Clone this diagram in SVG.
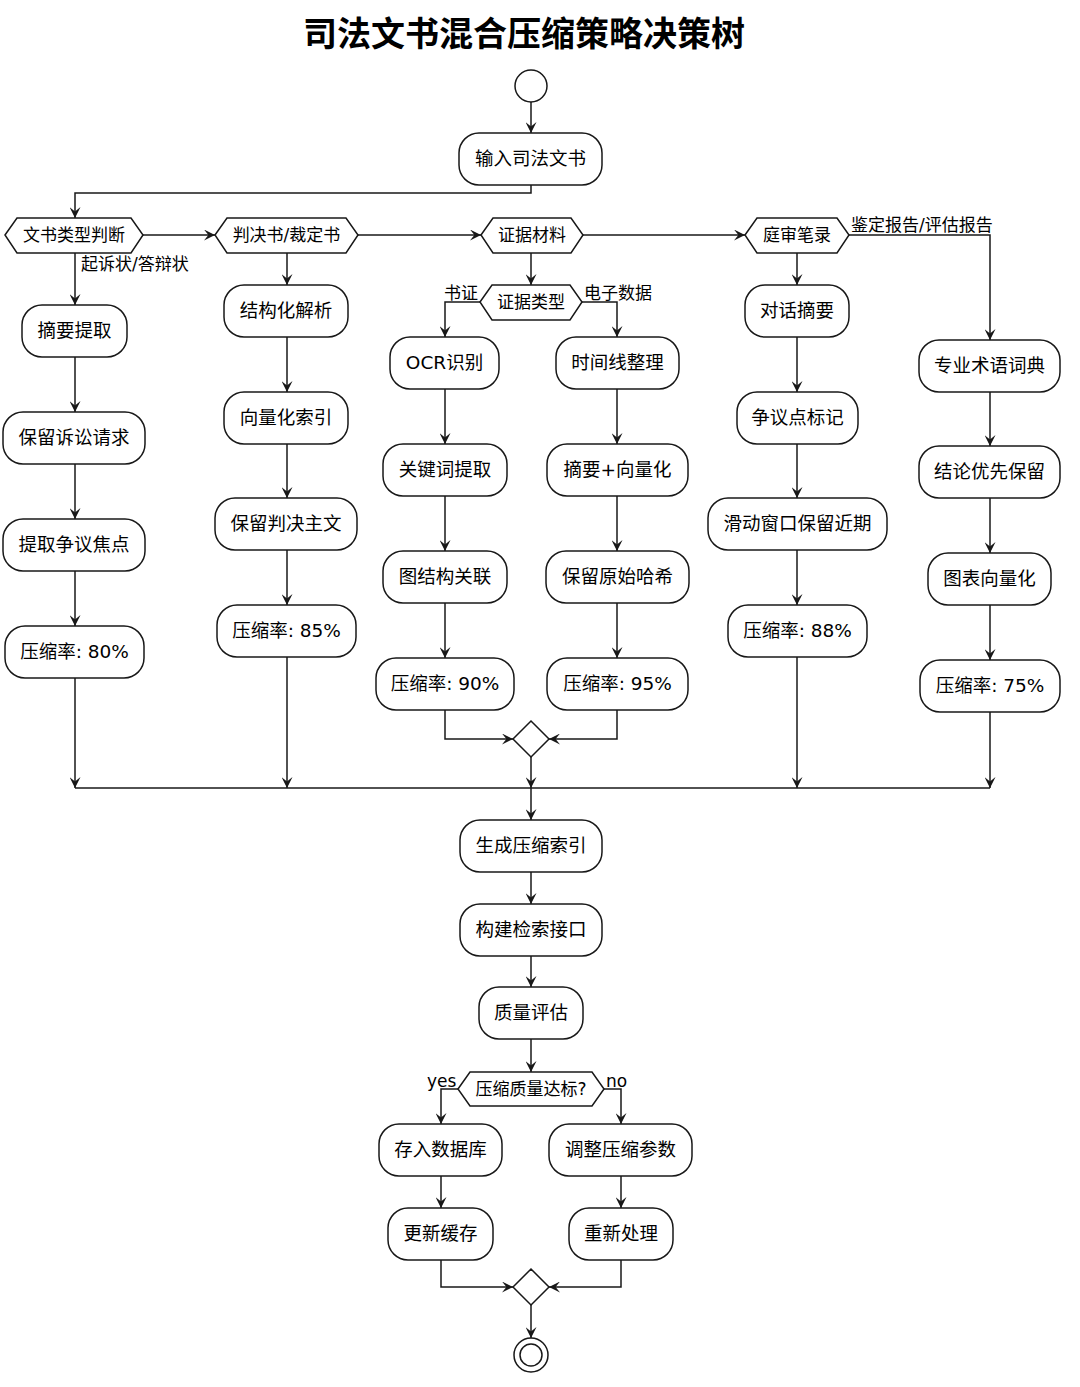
<svg xmlns="http://www.w3.org/2000/svg" width="1080" height="1387" viewBox="0 0 1080 1387">
<style>
.n{fill:#fff;stroke:#181818;stroke-width:1.5}
.t{font-family:"DejaVu Sans","Noto Sans CJK SC",sans-serif;font-size:18.5px;fill:#000;text-anchor:middle}
.h{font-family:"DejaVu Sans","Noto Sans CJK SC",sans-serif;font-size:17px;fill:#000;text-anchor:middle}
.l{font-family:"DejaVu Sans","Noto Sans CJK SC",sans-serif;font-size:17px;fill:#000}
.c{fill:none;stroke:#181818;stroke-width:1.5}
.a{marker-end:url(#arr)}
</style>
<defs>
<marker id="arr" viewBox="0 0 10 10" refX="10" refY="5" markerWidth="11" markerHeight="11" markerUnits="userSpaceOnUse" orient="auto">
<path d="M0,0 L10,5 L0,10 L4,5 z" fill="#181818"/>
</marker>
</defs>
<rect width="1080" height="1387" fill="#fff"/>
<text x="524" y="46" font-family="'DejaVu Sans','Noto Sans CJK SC',sans-serif" font-size="34" font-weight="bold" text-anchor="middle">司法文书混合压缩策略决策树</text>

<g id="connectors">
<path class="c a" d="M531,102 V133"/>
<path class="c a" d="M531,185 V193 H75 V218"/>
<path class="c a" d="M143,235 H215"/>
<path class="c a" d="M358,235 H481"/>
<path class="c a" d="M583,235 H745"/>
<path class="c a" d="M849,235 H990 V340"/>
<path class="c a" d="M75,253 V305"/>
<path class="c a" d="M75,357 V412"/>
<path class="c a" d="M75,464 V519"/>
<path class="c a" d="M75,571 V626"/>
<path class="c a" d="M75,678 V788"/>
<path class="c a" d="M287,253 V285"/>
<path class="c a" d="M287,337 V392"/>
<path class="c a" d="M287,444 V498"/>
<path class="c a" d="M287,550 V605"/>
<path class="c a" d="M287,657 V788"/>
<path class="c a" d="M531,253 V285"/>
<path class="c a" d="M480,302 H445 V337"/>
<path class="c a" d="M582,302 H617 V337"/>
<path class="c a" d="M445,389 V444"/>
<path class="c a" d="M445,496 V551"/>
<path class="c a" d="M445,603 V658"/>
<path class="c a" d="M445,710 V739 H513"/>
<path class="c a" d="M617,389 V444"/>
<path class="c a" d="M617,496 V551"/>
<path class="c a" d="M617,603 V658"/>
<path class="c a" d="M617,710 V739 H549"/>
<path class="c a" d="M531,757 V788"/>
<path class="c a" d="M797,253 V285"/>
<path class="c a" d="M797,337 V392"/>
<path class="c a" d="M797,444 V498"/>
<path class="c a" d="M797,550 V605"/>
<path class="c a" d="M797,657 V788"/>
<path class="c a" d="M990,392 V446"/>
<path class="c a" d="M990,498 V553"/>
<path class="c a" d="M990,605 V660"/>
<path class="c a" d="M990,712 V788"/>
<path class="c" d="M75,788 H990"/>
<path class="c a" d="M531,788 V820"/>
<path class="c a" d="M531,872 V904"/>
<path class="c a" d="M531,956 V987"/>
<path class="c a" d="M531,1039 V1072"/>
<path class="c a" d="M458,1089 H441 V1124"/>
<path class="c a" d="M604,1089 H621 V1124"/>
<path class="c a" d="M441,1176 V1208"/>
<path class="c a" d="M621,1176 V1208"/>
<path class="c a" d="M441,1260 V1287 H513"/>
<path class="c a" d="M621,1260 V1287 H549"/>
<path class="c a" d="M531,1305 V1338"/>
<text class="l" x="81" y="270">起诉状/答辩状</text>
<text class="l" x="851" y="231">鉴定报告/评估报告</text>
<text class="l" x="444" y="299">书证</text>
<text class="l" x="584" y="299">电子数据</text>
<text class="l" x="427" y="1087">yes</text>
<text class="l" x="606" y="1087">no</text>
</g>

<g id="start"><circle class="n" cx="531" cy="86" r="16"/></g>
<g id="n_input"><rect class="n" x="459" y="133" width="143" height="52" rx="20"/><text class="t" x="530.5" y="165">输入司法文书</text></g>

<g id="d_type"><path class="n" d="M5,235 L17,218 H131 L143,235 L131,253 H17 Z"/><text class="h" x="74" y="241">文书类型判断</text></g>
<g id="d_judg"><path class="n" d="M215,235 L227,218 H346 L358,235 L346,253 H227 Z"/><text class="h" x="286.5" y="241">判决书/裁定书</text></g>
<g id="d_evid"><path class="n" d="M481,235 L493,218 H571 L583,235 L571,253 H493 Z"/><text class="h" x="532" y="241">证据材料</text></g>
<g id="d_trial"><path class="n" d="M745,235 L757,218 H837 L849,235 L837,253 H757 Z"/><text class="h" x="797" y="241">庭审笔录</text></g>

<g id="n_c1a"><rect class="n" x="22" y="305" width="105" height="52" rx="20"/><text class="t" x="74.5" y="337">摘要提取</text></g>
<g id="n_c1b"><rect class="n" x="3" y="412" width="142" height="52" rx="20"/><text class="t" x="74" y="444">保留诉讼请求</text></g>
<g id="n_c1c"><rect class="n" x="3" y="519" width="142" height="52" rx="20"/><text class="t" x="74" y="551">提取争议焦点</text></g>
<g id="n_c1d"><rect class="n" x="5" y="626" width="139" height="52" rx="20"/><text class="t" x="74.5" y="658">压缩率: 80%</text></g>

<g id="n_c2a"><rect class="n" x="224" y="285" width="124" height="52" rx="20"/><text class="t" x="286" y="317">结构化解析</text></g>
<g id="n_c2b"><rect class="n" x="224" y="392" width="124" height="52" rx="20"/><text class="t" x="286" y="424">向量化索引</text></g>
<g id="n_c2c"><rect class="n" x="215" y="498" width="142" height="52" rx="20"/><text class="t" x="286" y="530">保留判决主文</text></g>
<g id="n_c2d"><rect class="n" x="217" y="605" width="139" height="52" rx="20"/><text class="t" x="286.5" y="637">压缩率: 85%</text></g>

<g id="d_evtype"><path class="n" d="M480,302 L492,285 H570 L582,302 L570,320 H492 Z"/><text class="h" x="531" y="308">证据类型</text></g>

<g id="n_c3a"><rect class="n" x="390" y="337" width="109" height="52" rx="20"/><text class="t" x="444.5" y="369">OCR识别</text></g>
<g id="n_c3b"><rect class="n" x="383" y="444" width="124" height="52" rx="20"/><text class="t" x="445" y="476">关键词提取</text></g>
<g id="n_c3c"><rect class="n" x="383" y="551" width="124" height="52" rx="20"/><text class="t" x="445" y="583">图结构关联</text></g>
<g id="n_c3d"><rect class="n" x="376" y="658" width="138" height="52" rx="20"/><text class="t" x="445" y="690">压缩率: 90%</text></g>

<g id="n_c4a"><rect class="n" x="556" y="337" width="123" height="52" rx="20"/><text class="t" x="617.5" y="369">时间线整理</text></g>
<g id="n_c4b"><rect class="n" x="547" y="444" width="141" height="52" rx="20"/><text class="t" x="617.5" y="476">摘要+向量化</text></g>
<g id="n_c4c"><rect class="n" x="546" y="551" width="143" height="52" rx="20"/><text class="t" x="617.5" y="583">保留原始哈希</text></g>
<g id="n_c4d"><rect class="n" x="547" y="658" width="141" height="52" rx="20"/><text class="t" x="617.5" y="690">压缩率: 95%</text></g>

<g id="merge1"><path class="n" d="M531,721 L549,739 L531,757 L513,739 Z"/></g>

<g id="n_c5a"><rect class="n" x="745" y="285" width="104" height="52" rx="20"/><text class="t" x="797" y="317">对话摘要</text></g>
<g id="n_c5b"><rect class="n" x="737" y="392" width="121" height="52" rx="20"/><text class="t" x="797.5" y="424">争议点标记</text></g>
<g id="n_c5c"><rect class="n" x="708" y="498" width="179" height="52" rx="20"/><text class="t" x="797.5" y="530">滑动窗口保留近期</text></g>
<g id="n_c5d"><rect class="n" x="728" y="605" width="139" height="52" rx="20"/><text class="t" x="797.5" y="637">压缩率: 88%</text></g>

<g id="n_c6a"><rect class="n" x="919" y="340" width="141" height="52" rx="20"/><text class="t" x="989.5" y="372">专业术语词典</text></g>
<g id="n_c6b"><rect class="n" x="919" y="446" width="141" height="52" rx="20"/><text class="t" x="989.5" y="478">结论优先保留</text></g>
<g id="n_c6c"><rect class="n" x="928" y="553" width="123" height="52" rx="20"/><text class="t" x="989.5" y="585">图表向量化</text></g>
<g id="n_c6d"><rect class="n" x="920" y="660" width="140" height="52" rx="20"/><text class="t" x="990" y="692">压缩率: 75%</text></g>

<g id="n_index"><rect class="n" x="460" y="820" width="142" height="52" rx="20"/><text class="t" x="531" y="852">生成压缩索引</text></g>
<g id="n_api"><rect class="n" x="460" y="904" width="142" height="52" rx="20"/><text class="t" x="531" y="936">构建检索接口</text></g>
<g id="n_eval"><rect class="n" x="479" y="987" width="104" height="52" rx="20"/><text class="t" x="531" y="1019">质量评估</text></g>
<g id="d_quality"><path class="n" d="M458,1089 L470,1072 H592 L604,1089 L592,1106 H470 Z"/><text class="h" x="531" y="1095">压缩质量达标?</text></g>
<g id="n_store"><rect class="n" x="379" y="1124" width="123" height="52" rx="20"/><text class="t" x="440.5" y="1156">存入数据库</text></g>
<g id="n_cache"><rect class="n" x="388" y="1208" width="105" height="52" rx="20"/><text class="t" x="440.5" y="1240">更新缓存</text></g>
<g id="n_adjust"><rect class="n" x="549" y="1124" width="143" height="52" rx="20"/><text class="t" x="620.5" y="1156">调整压缩参数</text></g>
<g id="n_redo"><rect class="n" x="569" y="1208" width="104" height="52" rx="20"/><text class="t" x="621" y="1240">重新处理</text></g>
<g id="merge2"><path class="n" d="M531,1269 L549,1287 L531,1305 L513,1287 Z"/></g>
<g id="end"><circle class="n" cx="531" cy="1355" r="17"/><circle class="n" cx="531" cy="1355" r="11"/></g>
</svg>
